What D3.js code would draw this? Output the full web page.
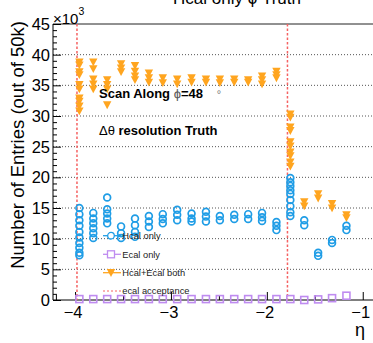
<!DOCTYPE html>
<html>
<head>
<meta charset="utf-8">
<script src="https://cdn.jsdelivr.net/npm/d3@7"></script>
<style>
  html, body { margin: 0; padding: 0; background: #fff; }
  svg { display: block; font-family: "Liberation Sans", Arial, Helvetica, sans-serif; }
</style>
</head>
<body>
<svg id="chart" width="373" height="343"></svg>
<script>
// eta positions of the scan points
const etaBins = [-3.955, -3.81, -3.665, -3.52, -3.375, -3.23, -3.085, -2.935, -2.785, -2.635,
                 -2.49, -2.34, -2.195, -2.05, -1.9, -1.755, -1.61, -1.465, -1.32, -1.17];

// entries (in thousands) per eta point, several runs per point
const hcalOnly = [
  [15.0, 14.0, 13.0, 12.1, 11.1, 10.2, 9.3, 8.5, 7.7, 7.3],
  [14.2, 13.3, 12.5, 11.7, 10.9, 10.1],
  [16.7, 14.8, 14.1, 13.3, 12.5],
  [12.0, 10.9, 10.1],
  [13.3, 12.2, 11.1, 10.3],
  [13.7, 12.8, 11.9],
  [14.0, 13.2, 12.5],
  [14.7, 13.9, 13.0],
  [14.1, 13.3, 12.8],
  [14.4, 13.6, 12.8],
  [13.7, 13.0],
  [13.9, 13.2],
  [14.0, 13.2],
  [14.2, 13.5, 12.9],
  [12.7, 12.1, 11.4],
  [19.9, 19.2, 18.6, 17.9, 17.3, 16.3, 15.3, 14.3, 13.7],
  [13.0, 12.2],
  [7.7, 7.2],
  [9.8, 9.3],
  [12.1, 11.4]
];

const hcalEcalBoth = [
  [38.8, 38.3, 37.2, 36.7, 35.1, 34.4, 32.9, 32.4, 31.6, 30.8],
  [38.8, 37.7, 36.0, 35.2, 34.4],
  [35.9, 35.1, 34.4, 31.8],
  [38.5, 37.8, 37.2],
  [38.2, 37.3, 36.5, 35.9],
  [37.0, 36.2, 35.5],
  [36.2, 35.4],
  [36.0, 35.2],
  [36.2, 35.5],
  [36.0, 35.5],
  [36.0, 35.4],
  [36.0, 35.5],
  [35.9, 35.5],
  [36.5, 35.9, 35.2],
  [37.3, 36.7, 36.2],
  [30.3, 29.8, 28.2, 27.6, 25.8, 25.1, 24.1, 23.5, 22.5, 21.8],
  [16.0, 15.3],
  [17.3, 16.6],
  [15.7, 15.0],
  [13.9, 13.4]
];

const ecalOnly = [0.15, 0.15, 0.15, 0.15, 0.15, 0.15, 0.15, 0.15, 0.15, 0.15,
                  0.15, 0.15, 0.15, 0.15, 0.15, 0.15, 0.0, 0.1, 0.3, 0.7];

// ecal acceptance boundaries in eta
const ecalAcceptance = [-3.98, -1.785];

const yTicks = [0, 5, 10, 15, 20, 25, 30, 35, 40, 45];
const xTicks = [-4, -3, -2, -1];
const legendLabels = ["Hcal only", "Ecal only", "Hcal+Ecal both", "ecal acceptance"];

const colBlue = "#1f9de6", colOrange = "#ffa51f", colPurple = "#bf8cf0", colRed = "#f56262";

const svg = d3.select("#chart");
const x = d3.scaleLinear().domain([-4.23, -0.82]).range([53, 380]);
const y = d3.scaleLinear().domain([0, 45]).range([300, 24]);

// horizontal dotted grid
svg.append("g").selectAll("line").data(yTicks.slice(1, -1)).join("line")
  .attr("x1", 53).attr("x2", 380)
  .attr("y1", d => y(d)).attr("y2", d => y(d))
  .attr("stroke", "#555").attr("stroke-width", 1).attr("stroke-dasharray", "1,2");

// frame top
svg.append("line").attr("x1", 53).attr("x2", 380).attr("y1", y(45)).attr("y2", y(45))
  .attr("stroke", "#222").attr("stroke-width", 1);

// y axis
const yAxis = d3.axisRight(y).tickValues(yTicks).tickSize(8).tickFormat("");
const gy = svg.append("g").attr("transform", "translate(53,0)").call(yAxis);
gy.select(".domain").attr("d", `M0,${y(0)}V${y(45)}`);
const gyMinor = svg.append("g").attr("transform", "translate(53,0)")
  .call(d3.axisRight(y).tickValues(d3.range(0, 46, 1).filter(v => v % 5 !== 0)).tickSize(4).tickFormat(""));
gyMinor.select(".domain").remove();
svg.selectAll("g .tick line, g .domain").attr("stroke", "#000");

svg.append("g").selectAll("text").data(yTicks).join("text")
  .attr("x", 50).attr("y", d => y(d) + 6)
  .attr("text-anchor", "end").attr("font-size", 16.5).attr("fill", "#000")
  .text(d => d);

// x axis
const gx = svg.append("g").attr("transform", "translate(0,300)")
  .call(d3.axisTop(x).tickValues(xTicks).tickSize(8).tickFormat(""));
gx.select(".domain").attr("d", `M53,0H380`);
const gxMinor = svg.append("g").attr("transform", "translate(0,300)")
  .call(d3.axisTop(x).tickValues([-4.2, -3.5, -2.5, -1.5]).tickSize(5).tickFormat(""));
gxMinor.select(".domain").remove();
svg.selectAll("g .tick line, g .domain").attr("stroke", "#000");

svg.append("g").selectAll("text").data(xTicks).join("text")
  .attr("x", d => x(d) - 2).attr("y", 318)
  .attr("text-anchor", "middle").attr("font-size", 16.5).attr("fill", "#000")
  .text(d => "\u2212" + Math.abs(d));

// axis titles
svg.append("text").attr("x", 355).attr("y", 336).attr("font-size", 18).text("\u03b7");
svg.append("text")
  .attr("transform", "translate(23.5,21) rotate(-90)")
  .attr("text-anchor", "end").attr("font-size", 18.5).attr("fill", "#000")
  .text("Number of Entries (out of 50k)");
const mult = svg.append("text").attr("x", 53).attr("y", 24).attr("font-size", 15);
mult.append("tspan").text("\u00d710");
mult.append("tspan").attr("dy", -9).attr("font-size", 10.5).text("3");

// title, partly above the top edge of the canvas
svg.append("text").attr("x", 237).attr("y", 4).attr("text-anchor", "middle")
  .attr("font-size", 17).text("Hcal only \u03d5 Truth");

// ecal acceptance lines
svg.append("g").selectAll("line").data(ecalAcceptance).join("line")
  .attr("x1", d => x(d)).attr("x2", d => x(d))
  .attr("y1", y(45)).attr("y2", y(0))
  .attr("stroke", colRed).attr("stroke-width", 1.5).attr("stroke-dasharray", "2.5,2");

// markers
const triDown = "M-4.2,-3.6L4.2,-3.6L0,4.2Z";

function flatten(arr) {
  const out = [];
  arr.forEach((vals, i) => vals.forEach(v => out.push({ eta: etaBins[i], v })));
  return out;
}

svg.append("g").selectAll("path").data(flatten(hcalEcalBoth)).join("path")
  .attr("d", triDown)
  .attr("transform", d => `translate(${x(d.eta)},${y(d.v)})`)
  .attr("fill", colOrange);

svg.append("g").selectAll("circle").data(flatten(hcalOnly)).join("circle")
  .attr("cx", d => x(d.eta)).attr("cy", d => y(d.v)).attr("r", 3.4)
  .attr("fill", "none").attr("stroke", colBlue).attr("stroke-width", 1.7);

svg.append("g").selectAll("rect").data(ecalOnly.map((v, i) => ({ eta: etaBins[i], v }))).join("rect")
  .attr("x", d => x(d.eta) - 3.5).attr("y", d => y(d.v) - 3.5)
  .attr("width", 7).attr("height", 7)
  .attr("fill", "none").attr("stroke", colPurple).attr("stroke-width", 1.6);

// annotations
const scan = svg.append("text").attr("x", 99).attr("y", 97.5).attr("font-size", 13)
  .attr("font-weight", "bold").attr("fill", "#000");
scan.append("tspan").text("Scan Along ");
scan.append("tspan").attr("font-weight", "normal").attr("fill", "#555").text("\u03d5");
scan.append("tspan").text("=48");
svg.append("text").attr("x", 216.8).attr("y", 98).attr("font-size", 11).attr("fill", "#777").text("\u00b0");

const reso = svg.append("text").attr("x", 99).attr("y", 135).attr("font-size", 13)
  .attr("font-weight", "bold").attr("fill", "#000");
reso.append("tspan").attr("font-weight", "normal").text("\u0394\u03b8");
reso.append("tspan").text(" resolution Truth");

// legend
const legY = [235.7, 254.3, 272.7, 291];
const leg = svg.append("g");
legendLabels.forEach((lab, i) => {
  const g = leg.append("g").attr("transform", `translate(0,${legY[i]})`);
  const col = [colBlue, colPurple, colOrange, colRed][i];
  g.append("line").attr("x1", 103).attr("x2", 121).attr("y1", 0).attr("y2", 0)
    .attr("stroke", col).attr("stroke-width", i === 3 ? 1 : 1.3)
    .attr("stroke-dasharray", i === 3 ? "2,2" : null);
  if (i === 0) g.append("circle").attr("cx", 111).attr("cy", 0).attr("r", 3.3)
    .attr("fill", "#fff").attr("stroke", col).attr("stroke-width", 1.3);
  if (i === 1) g.append("rect").attr("x", 107.5).attr("y", -3.5).attr("width", 7).attr("height", 7)
    .attr("fill", "#fff").attr("stroke", col).attr("stroke-width", 1.3);
  if (i === 2) g.append("path").attr("d", triDown).attr("transform", "translate(111,0)").attr("fill", col);
  g.append("text").attr("x", 122.3).attr("y", 3.3).attr("font-size", 9.3).attr("fill", "#222").text(lab);
});
</script>
</body>
</html>
